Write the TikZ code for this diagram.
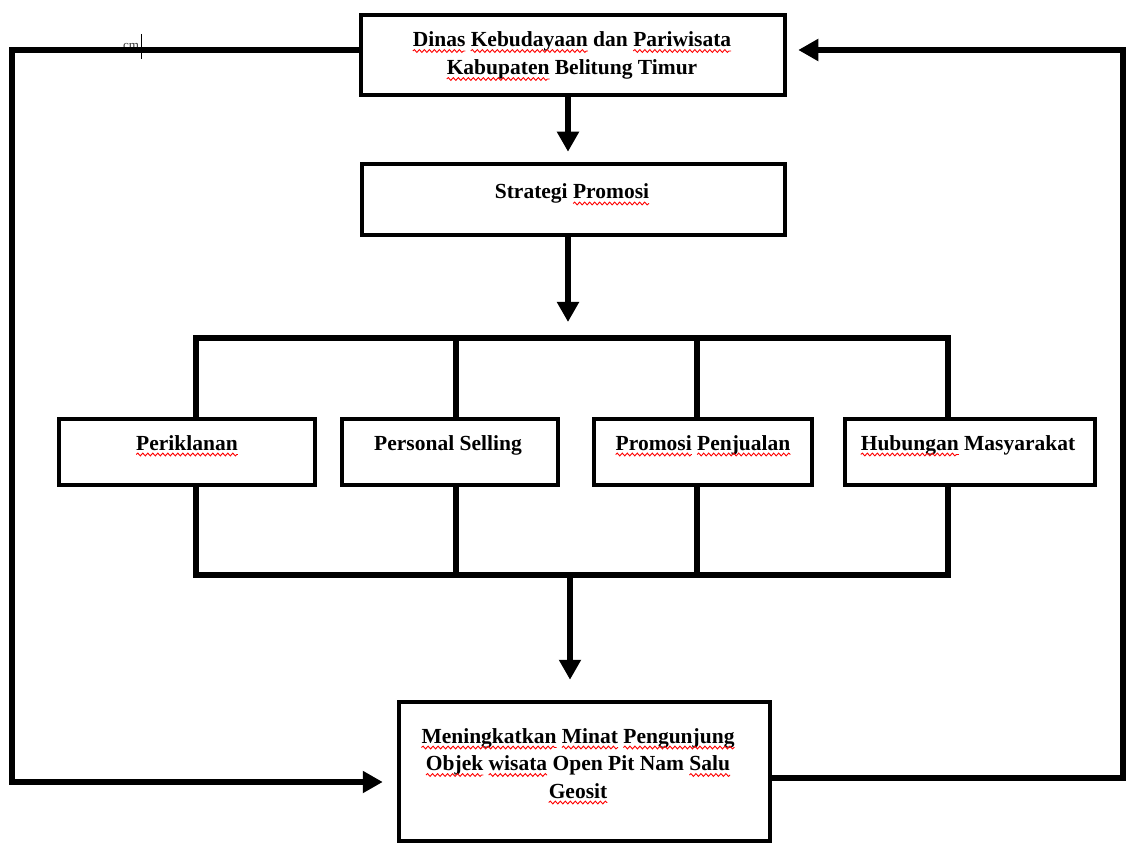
\documentclass[tikz,border=0pt]{standalone}
\usepackage{fontspec}
\setmainfont{Liberation Serif}
\usetikzlibrary{arrows.meta,decorations.pathmorphing}
\newdimen\sqwd
\newsavebox\sqwbox
\newcommand\sqw[1]{\sbox\sqwbox{#1}\sqwd=\wd\sqwbox\leavevmode\rlap{\usebox\sqwbox}\tikz[baseline=0pt,x=1pt,y=1pt]{\draw[overlay, red, line width=0.9pt, decorate, decoration={snake, amplitude=1.4pt, segment length=5pt}] (0pt,-4.5pt) -- (\the\sqwd,-4.5pt); \path[use as bounding box] (0pt,0pt) rectangle (\the\sqwd,0.1pt);}}
\tikzset{
  box/.style={draw, line width=4.5pt, rectangle, inner sep=0pt},
  lbl/.style={font=\fontsize{21.5}{28}\selectfont\bfseries, anchor=base, inner sep=0pt, align=center},
  conn/.style={line width=5.5pt},
  arr/.style={line width=5.5pt, -{Triangle[length=20pt,width=21pt]}},
}
\begin{document}
\begin{tikzpicture}[x=1pt,y=-1pt]
\useasboundingbox (0,0) rectangle (1142,866);
% boxes
\node[box, minimum width=424pt, minimum height=80pt] (dinas) at (573,55) {};
\node[box, minimum width=423pt, minimum height=71pt] (strategi) at (573.5,199.5) {};
\node[box, minimum width=256pt, minimum height=66pt] (iklan) at (187,452) {};
\node[box, minimum width=216pt, minimum height=66pt] (selling) at (450,452) {};
\node[box, minimum width=218pt, minimum height=66pt] (penjualan) at (703,452) {};
\node[box, minimum width=250pt, minimum height=66pt] (humas) at (970,452) {};
\node[box, minimum width=371pt, minimum height=139pt] (hasil) at (584.5,771.5) {};
% texts
\node[lbl] (t1) at (572,46.5) {\sqw{Dinas} \sqw{Kebudayaan} dan \sqw{Pariwisata}};
\node[lbl] (t2) at (572,74.5) {\sqw{Kabupaten} Belitung Timur};
\node[lbl] (t3) at (572,199) {Strategi \sqw{Promosi}};
\node[lbl] (t4) at (187,450) {\sqw{Periklanan}};
\node[lbl] (t5) at (448,450) {Personal Selling};
\node[lbl] (t6) at (703,450) {\sqw{Promosi} \sqw{Penjualan}};
\node[lbl] (t7) at (968,450) {\sqw{Hubungan} Masyarakat};
\node[lbl] (t8) at (578,743) {\sqw{Meningkatkan} \sqw{Minat} \sqw{Pengunjung}};
\node[lbl] (t9) at (578,770.5) {\sqw{Objek} \sqw{wisata} Open Pit Nam \sqw{Salu}};
\node[lbl] (t10) at (578,798) {\sqw{Geosit}};
\node[font=\fontsize{13}{13}\selectfont, anchor=base, inner sep=0pt, text=black!80] (cm) at (131,50) {cm};
% coordinates
\coordinate (cx) at (568,0);
\coordinate (bx) at (570,0);
\coordinate (bar1) at (196,338);
\coordinate (bar2) at (456,338);
\coordinate (bar3) at (697,338);
\coordinate (bar4) at (948,338);
\coordinate (low1) at (196,575);
\coordinate (low2) at (456,575);
\coordinate (low3) at (697,575);
\coordinate (low4) at (948,575);
\coordinate (L1) at (12,50);
\coordinate (L2) at (12,782);
\coordinate (R1) at (1123,778);
\coordinate (R2) at (1123,50);
\coordinate (cur1) at (141,34);
\coordinate (cur2) at (141,59);
% connectors
\draw[arr, shorten >=10pt] (dinas.south -| cx) -- (strategi.north -| cx);
\draw[arr, shorten >=16pt] (strategi.south -| cx) -- (bar1 -| cx);
\draw[conn] ([xshift=-2.75pt]bar1) -- ([xshift=2.75pt]bar4);
\draw[conn] (bar1) -- (iklan.north -| bar1);
\draw[conn] (bar2) -- (selling.north -| bar2);
\draw[conn] (bar3) -- (penjualan.north -| bar3);
\draw[conn] (bar4) -- (humas.north -| bar4);
\draw[conn] (iklan.south -| low1) -- (low1);
\draw[conn] (selling.south -| low2) -- (low2);
\draw[conn] (penjualan.south -| low3) -- (low3);
\draw[conn] (humas.south -| low4) -- (low4);
\draw[conn] ([xshift=-2.75pt]low1) -- ([xshift=2.75pt]low4);
\draw[arr, shorten >=20pt] (low1 -| bx) -- (hasil.north -| bx);
\draw[arr, shorten >=14pt] (dinas.west |- L1) -- (L1) -- (L2) -- (hasil.west |- L2);
\draw[arr, shorten >=11pt] (hasil.east |- R1) -- (R1) -- (R2) -- (dinas.east |- R2);
\draw[line width=1pt] (cur1) -- (cur2);
\end{tikzpicture}
\end{document}
